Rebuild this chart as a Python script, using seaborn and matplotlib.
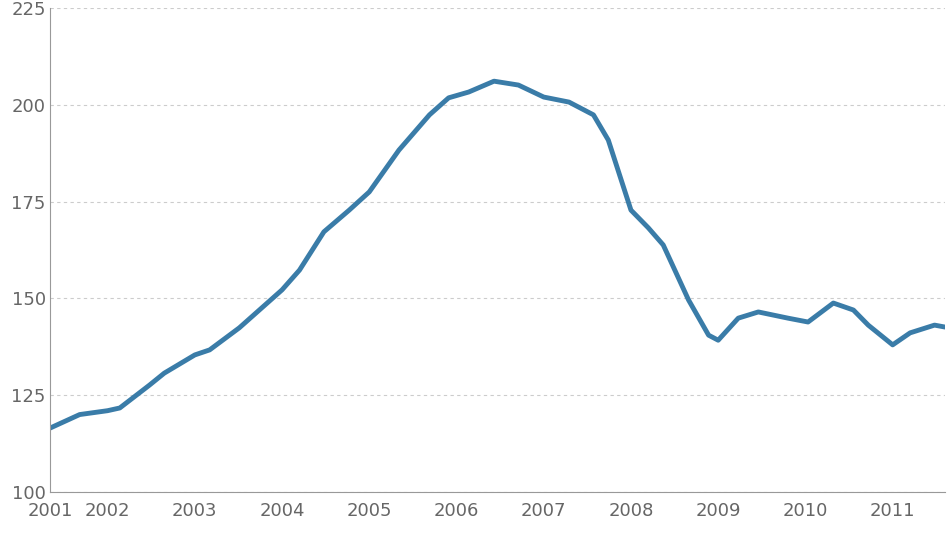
import numpy as np
import pandas as pd
import matplotlib
matplotlib.use("Agg")
import matplotlib.pyplot as plt
import seaborn as sns

# values (decimal year, index)
years = [2001.34, 2001.68, 2002.0, 2002.14, 2002.48, 2002.65, 2003.0, 2003.17,
         2003.51, 2004.0, 2004.2, 2004.48, 2004.77, 2005.0, 2005.34, 2005.69,
         2005.91, 2006.14, 2006.43, 2006.71, 2007.0, 2007.29, 2007.57, 2007.74,
         2008.0, 2008.2, 2008.37, 2008.66, 2008.89, 2009.0, 2009.23, 2009.46,
         2009.8, 2010.03, 2010.32, 2010.55, 2010.72, 2011.0, 2011.2, 2011.48, 2011.6]
index = [116.5, 120.0, 121.0, 121.7, 127.6, 130.7, 135.4, 136.7,
         142.4, 152.2, 157.3, 167.2, 172.8, 177.5, 188.3, 197.4,
         201.8, 203.3, 206.1, 205.1, 202.0, 200.7, 197.4, 190.9,
         172.8, 168.2, 163.8, 149.6, 140.5, 139.2, 144.9, 146.5,
         144.9, 143.9, 148.8, 147.0, 143.1, 138.0, 141.1, 143.1, 142.6]
tick_years = list(range(2002, 2012))
y_ticks = [100, 125, 150, 175, 200, 225]

df = pd.DataFrame({"year": years, "index": index})

sns.set_style("white")
fig = plt.figure(figsize=(9.48, 5.33), dpi=100)
ax = fig.add_axes([50 / 948, 41 / 533, 895 / 948, 484 / 533])

sns.lineplot(data=df, x="year", y="index", ax=ax, color="#3a7ca8", linewidth=3.5,
             solid_joinstyle="round", solid_capstyle="round")

ax.set_xlim(years[0], years[-1])
ax.set_ylim(100, 225)
ax.set_xticks([years[0]] + tick_years)
ax.set_xticklabels(["2001"] + [str(y) for y in tick_years])
ax.set_yticks(y_ticks)
ax.set_xlabel("")
ax.set_ylabel("")
ax.yaxis.grid(True, linestyle=(0, (3, 3)), color="#cccccc", linewidth=0.8)
ax.xaxis.grid(False)
for s in ["top", "right"]:
    ax.spines[s].set_visible(False)
for s in ["left", "bottom"]:
    ax.spines[s].set_color("#999999")
ax.tick_params(axis="both", colors="#666666", labelsize=13, length=0, pad=3)
ax.tick_params(axis="x", length=4, color="#999999")

fig.savefig("out.png", dpi=100)
